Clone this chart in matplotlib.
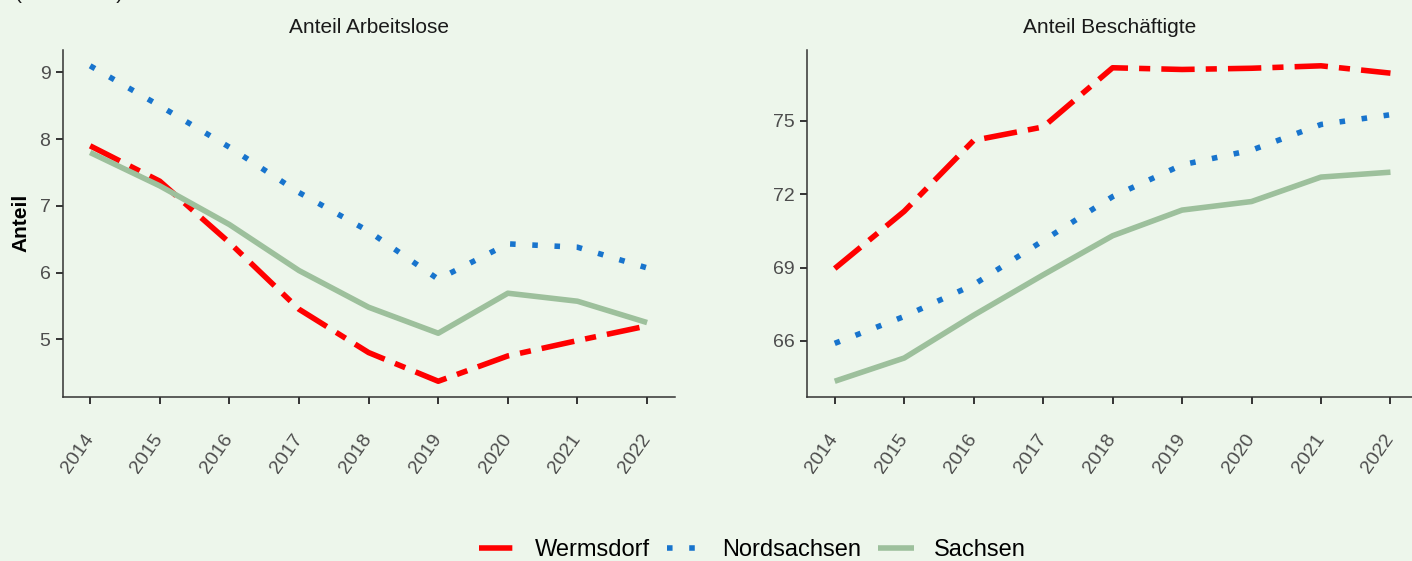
import matplotlib.pyplot as plt

plt.rcParams['font.family'] = ['Liberation Sans', 'DejaVu Sans']

jahre = ['2014', '2015', '2016', '2017', '2018', '2019', '2020', '2021', '2022']

# Anteil Arbeitslose
al_wermsdorf = [7.90, 7.37, 6.45, 5.45, 4.80, 4.37, 4.75, 4.98, 5.20]
al_nordsachsen = [9.10, 8.50, 7.88, 7.20, 6.62, 5.90, 6.43, 6.38, 6.07]
al_sachsen = [7.80, 7.30, 6.72, 6.03, 5.48, 5.09, 5.69, 5.57, 5.25]

# Anteil Beschaeftigte
bs_wermsdorf = [68.96, 71.30, 74.20, 74.75, 77.17, 77.10, 77.15, 77.25, 76.95]
bs_nordsachsen = [65.90, 67.00, 68.30, 70.10, 71.90, 73.20, 73.80, 74.85, 75.25]
bs_sachsen = [64.35, 65.30, 67.05, 68.70, 70.30, 71.35, 71.70, 72.70, 72.90]

serien = ['Wermsdorf', 'Nordsachsen', 'Sachsen']
farben = ['#ff0000', '#1874cd', '#9dc09c']
stile = [(0, (6, 2, 2, 2)), (0, (1, 3)), '-']

bg = '#edf6eb'
fig = plt.figure(figsize=(14.12, 5.61), dpi=100, facecolor=bg)

ax1 = fig.add_axes([0.0446, 0.2923, 0.4334, 0.6185])
ax2 = fig.add_axes([0.5715, 0.2923, 0.4285, 0.6185])

x = list(range(len(jahre)))


def panel(ax, daten, titel, yticks, xlim):
    ax.set_facecolor(bg)
    lines = []
    for werte, name, col, ls in zip(daten, serien, farben, stile):
        l, = ax.plot(x, werte, color=col, lw=4, linestyle=ls, label=name,
                     dash_capstyle='butt', solid_capstyle='butt')
        lines.append(l)
    alle = [v for w in daten for v in w]
    rng = max(alle) - min(alle)
    ax.set_ylim(min(alle) - 0.05 * rng, max(alle) + 0.05 * rng)
    ax.set_xlim(*xlim)
    ax.set_yticks(yticks)
    ax.set_yticklabels([str(t) for t in yticks])
    ax.set_xticks(x)
    ax.set_xticklabels(jahre, rotation=55, ha='right', va='center',
                       rotation_mode='anchor')
    for s in ['top', 'right']:
        ax.spines[s].set_visible(False)
    for s in ['left', 'bottom']:
        ax.spines[s].set_color('#333333')
        ax.spines[s].set_linewidth(1.1)
    ax.tick_params(axis='both', colors='#333333', length=5, width=1.4,
                   labelsize=14, labelcolor='#4d4d4d')
    ax.tick_params(axis='x', pad=23)
    ax.tick_params(axis='y', pad=4)
    ax.set_title(titel, fontsize=15, pad=12, color='#1a1a1a')
    return lines


lines = panel(ax1, [al_wermsdorf, al_nordsachsen, al_sachsen],
              'Anteil Arbeitslose', [5, 6, 7, 8, 9], (-0.39, 8.4))
panel(ax2, [bs_wermsdorf, bs_nordsachsen, bs_sachsen],
      'Anteil Beschäftigte', [66, 69, 72, 75], (-0.4, 8.31))

fig.text(0.0149, 0.6025, 'Anteil', rotation=90, ha='center', va='center',
         fontsize=15, fontweight='bold')

# im Original oben abgeschnitten
fig.text(15 / 1412, 1 + 1 / 561, '(in Prozent)', ha='left', va='baseline',
         fontsize=15, color='#1a1a1a')

fig.legend(lines, serien, loc='center', bbox_to_anchor=(0.533, 0.0196),
           ncol=3, frameon=False, fontsize=17, handlelength=1.5,
           handletextpad=0.85, columnspacing=0.72)

plt.savefig('out.png', dpi=100, facecolor=bg)
